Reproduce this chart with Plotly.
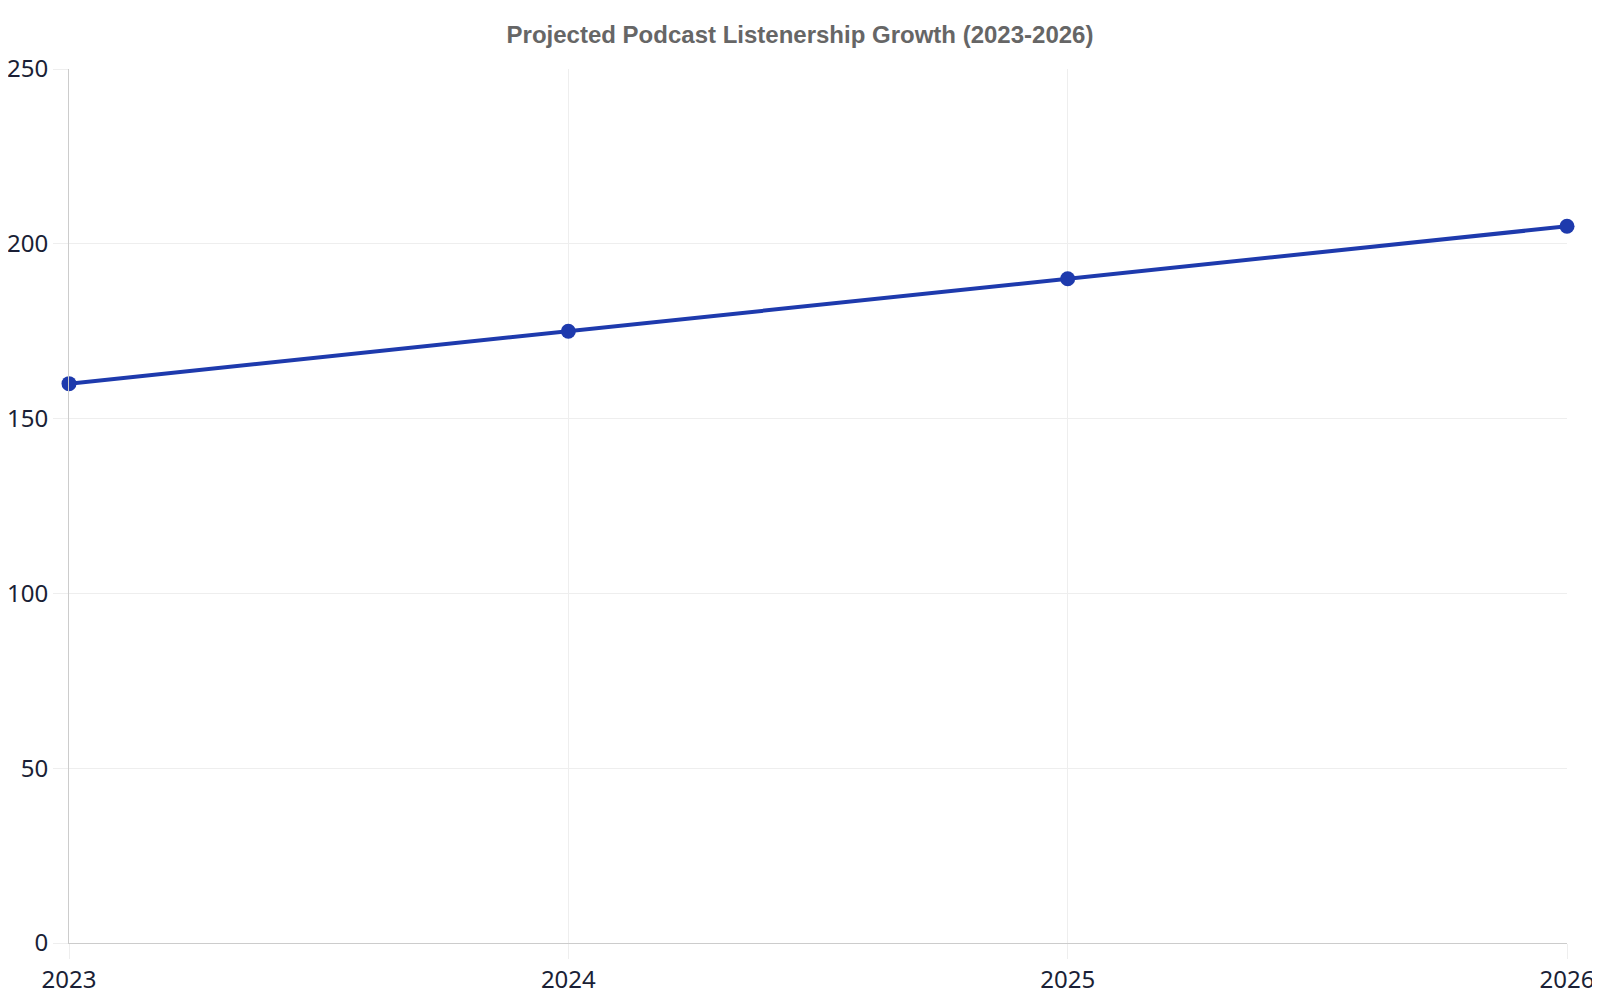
import plotly.graph_objects as go

# Projected listeners (millions) per year
years = ["2023", "2024", "2025", "2026"]
listeners = [160, 175, 190, 205]

fig = go.Figure()

fig.add_trace(go.Scatter(
    x=years,
    y=listeners,
    mode="lines+markers",
    line=dict(color="#1e3aad", width=4),
    marker=dict(color="#1e3aad", size=15),
    cliponaxis=False,
    hoverinfo="x+y",
    showlegend=False,
))

fig.update_layout(
    width=1600,
    height=1000,
    title=dict(
        text="<b>Projected Podcast Listenership Growth (2023-2026)</b>",
        x=0.495,
        xanchor="center",
        y=0.973,
        yanchor="middle",
        font=dict(family="Liberation Sans, Arial, sans-serif", size=24, color="#666666"),
    ),
    font=dict(family="Noto Sans, Open Sans, sans-serif", size=24, color="#1a1f36"),
    paper_bgcolor="white",
    plot_bgcolor="white",
    margin=dict(l=61, r=41, t=61, b=65),
    xaxis=dict(
        type="category",
        range=[0, 3],
        automargin=False,
        showgrid=True,
        gridcolor="#eeeeee",
        showline=True,
        linecolor="#cccccc",
        ticks="outside",
        ticklen=15,
        tickcolor="#eeeeee",
        zeroline=False,
    ),
    yaxis=dict(
        range=[0, 250],
        dtick=50,
        automargin=False,
        showgrid=True,
        gridcolor="#eeeeee",
        showline=True,
        linecolor="#cccccc",
        ticks="outside",
        ticklen=15,
        tickcolor="#eeeeee",
        zeroline=False,
    ),
)

fig.write_html("out.html")
